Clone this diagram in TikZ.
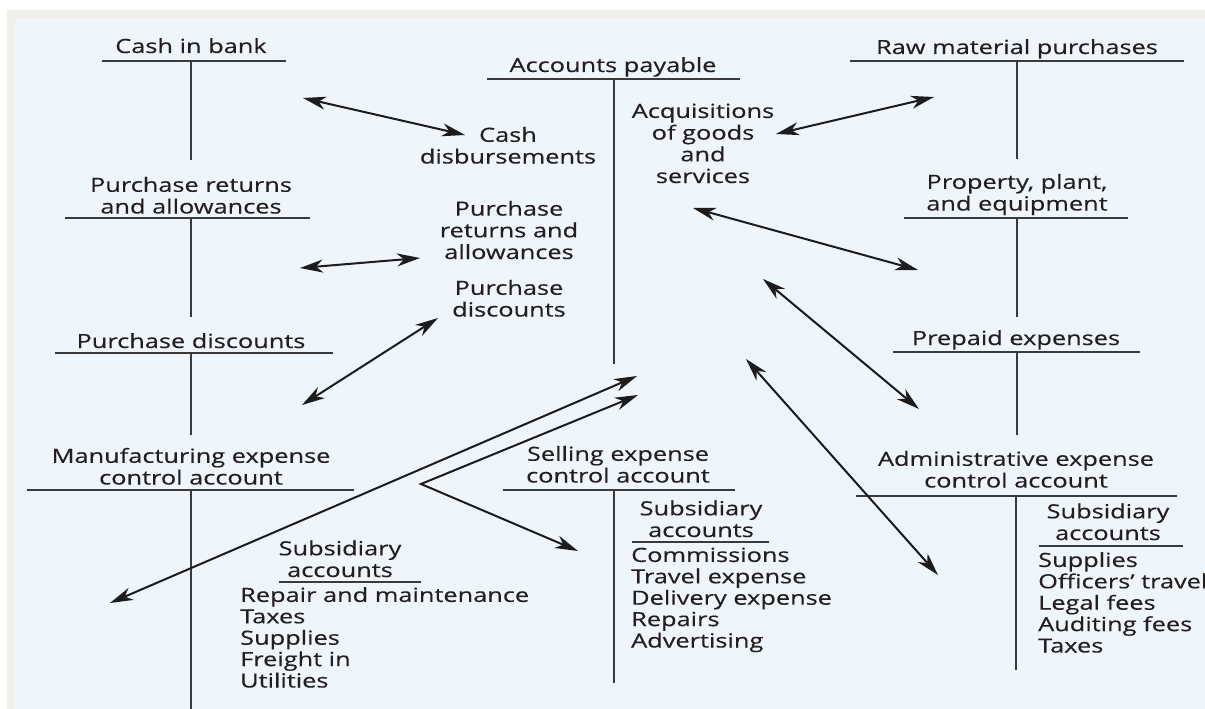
\documentclass[tikz,border=0pt]{standalone}
\usepackage{fontspec}
\setmainfont{Open Sans}[FakeStretch=1.3,FakeBold=0.35]
\usetikzlibrary{arrows.meta}
\definecolor{panel}{HTML}{EEF5FB}
\definecolor{rim}{HTML}{F0EFEA}
\definecolor{ink}{HTML}{231F20}
\definecolor{rulec}{HTML}{3A3A3A}
\definecolor{arrowc}{HTML}{1C1C1C}
\begin{document}
\begin{tikzpicture}[x=1pt,y=-1pt,
  lbl/.style={font=\fontsize{19.5}{21.7}\selectfont, text=ink, inner sep=0pt, align=center, anchor=base},
  lst/.style={font=\fontsize{19.5}{21.4}\selectfont, text=ink, inner sep=0pt, align=left, anchor=base west},
  tline/.style={draw=rulec, line width=1.4pt},
  tip/.tip={Stealth[length=23pt,width=13pt,inset=7pt]},
  dbl/.style={draw=arrowc, line width=2pt, tip-tip},
]
\fill[white] (0,0) rectangle (1205,709);
\fill[rim] (7,10) rectangle (1205,709);
\fill[panel] (15,18) rectangle (1205,709);
\useasboundingbox (0,0) rectangle (1205,709);

% ---- T-account titles (y = baseline of the last line)
\node[lbl] (cash) at (191,53) {Cash in bank};
\node[lbl] (prt) at (191,213.5) {Purchase returns\\and allowances};
\node[lbl] (pdt) at (191,348) {Purchase discounts};
\node[lbl] (mfg) at (191,484.5) {Manufacturing expense\\control account};
\node[lbl] (ap) at (613,72) {Accounts payable};
\node[lbl] (raw) at (1017,54) {Raw material purchases};
\node[lbl] (ppe) at (1017,210.5) {Property, plant,\\and equipment};
\node[lbl] (pre) at (1016,345) {Prepaid expenses};
\node[lbl] (adm) at (1016,487.5) {Administrative expense\\control account};
\node[lbl] (sel) at (618,482.5) {Selling expense\\control account};

% ---- entries in Accounts payable
\node[lbl] (cd) at (508,163.5) {Cash\\disbursements};
\node[lbl] (acq) at (703,183) {Acquisitions\\of goods\\and\\services};
\node[lbl] (pra) at (509,259) {Purchase\\returns and\\allowances};
\node[lbl] (pdc) at (509,316.5) {Purchase\\discounts};

% ---- subsidiary accounts
\node[lbl] (smfg) at (340,577) {Subsidiary\\accounts};
\node[lst] (lmfg) at (240,687.5) {Repair and maintenance\\Taxes\\Supplies\\Freight in\\Utilities};
\node[lbl] (ssel) at (701,537) {Subsidiary\\accounts};
\node[lst] (lsel) at (631,647.5) {Commissions\\Travel expense\\Delivery expense\\Repairs\\Advertising};
\node[lbl] (sadm) at (1108,540) {Subsidiary\\accounts};
\node[lst] (ladm) at (1038,652.5) {Supplies\\Officers’ travel\\Legal fees\\Auditing fees\\Taxes};

% ---- T shapes
\draw[tline] (102,61) -- (286,61) (191,61) -- (191,160);
\draw[tline] (65,218) -- (310,218) (191,218) -- (191,317);
\draw[tline] (55,353) -- (333,353) (191,353) -- (191,435);
\draw[tline] (27,490) -- (354,490) (191,490) -- (191,709);
\draw[tline] (487,79) -- (740,79) (614,79) -- (614,364);
\draw[tline] (850,61) -- (1184,61) (1017,61) -- (1017,159);
\draw[tline] (904,218) -- (1128,218) (1017,218) -- (1017,317);
\draw[tline] (893,352) -- (1140,352) (1017,352) -- (1017,435);
\draw[tline] (856,496) -- (1177,496) (1016,496) -- (1016,670);
\draw[tline] (503,490) -- (735,490) (614,490) -- (614,683);
% subsidiary underlines
\draw[tline] (279,582) -- (421,582);
\draw[tline] (632,542) -- (769,542);
\draw[tline] (1039,546) -- (1183,546);

% ---- connector end points
\coordinate (c1a) at (303,98);   \coordinate (c1b) at (465,135);
\coordinate (c2a) at (776,134);  \coordinate (c2b) at (934,97);
\coordinate (c3a) at (693,208);  \coordinate (c3b) at (918,270);
\coordinate (c4a) at (300,268);  \coordinate (c4b) at (420,258);
\coordinate (c5a) at (302,405);  \coordinate (c5b) at (438,318);
\coordinate (c6a) at (110,603);  \coordinate (c6b) at (637,376);
\coordinate (c7a) at (638,395);  \coordinate (c7k) at (421,484); \coordinate (c7b) at (578,551);
\coordinate (c8a) at (763,279);  \coordinate (c8b) at (919,409);
\coordinate (c9a) at (746,359);  \coordinate (c9b) at (938,575);

\draw[dbl] (c1a) -- (c1b);
\draw[dbl] (c2a) -- (c2b);
\draw[dbl] (c3a) -- (c3b);
\draw[dbl] (c4a) -- (c4b);
\draw[dbl] (c5a) -- (c5b);
\draw[dbl] (c6a) -- (c6b);
\draw[dbl, line join=miter] (c7a) -- (c7k) -- (c7b);
\draw[dbl] (c8a) -- (c8b);
\draw[dbl] (c9a) -- (c9b);
\end{tikzpicture}
\end{document}
